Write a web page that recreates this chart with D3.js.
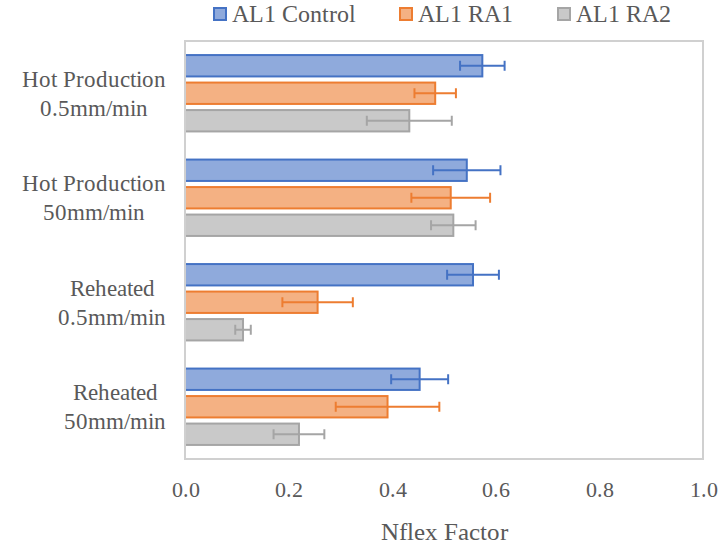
<!DOCTYPE html>
<html><head><meta charset="utf-8">
<script src="https://cdn.jsdelivr.net/npm/d3@7/dist/d3.min.js"></script>
<style>
  @font-face { font-family: "ChartSerif"; src: local("Liberation Serif"), local("LiberationSerif"), local("LiberationSerif-Regular"); }
  #chart text { font-family: "ChartSerif", "Liberation Serif", "Times New Roman" !important; }
</style>
</head>
<body style="margin:0">
<svg id="chart" width="719" height="547"></svg>
<script>
// Test conditions (one label per group, broken across lines)
const categories = [
  ["Hot Production", "0.5mm/min"],
  ["Hot Production", "50mm/min"],
  ["Reheated", "0.5mm/min"],
  ["Reheated", "50mm/min"]
];
const seriesNames = ["AL1 Control", "AL1 RA1", "AL1 RA2"];

// Mean Nflex factor per condition, one array per series
const control = [0.574, 0.544, 0.556, 0.453];
const ra1     = [0.483, 0.513, 0.256, 0.391];
const ra2     = [0.433, 0.518, 0.112, 0.220];

// Error bar half-widths (±)
const controlErr = [0.043, 0.065, 0.050, 0.055];
const ra1Err     = [0.040, 0.076, 0.068, 0.100];
const ra2Err     = [0.082, 0.043, 0.015, 0.049];

const xTicks = [0, 0.2, 0.4, 0.6, 0.8, 1.0];

const seriesStyle = [
  { fill: "#8faadc", stroke: "#4472c4" },
  { fill: "#f4b183", stroke: "#ed7d31" },
  { fill: "#c9c9c9", stroke: "#a5a5a5" }
];

const values = [control, ra1, ra2];
const errors = [controlErr, ra1Err, ra2Err];

const svg = d3.select("#chart");
const plot = { left: 185, right: 703, top: 41, bottom: 459 };

const x = d3.scaleLinear().domain([0, 1]).range([plot.left, plot.right]);
const yGroup = d3.scaleBand()
  .domain(d3.range(categories.length))
  .range([plot.top, plot.bottom])
  .paddingInner(0.25)
  .paddingOuter(0.125);
const ySeries = d3.scaleBand()
  .domain(d3.range(seriesNames.length))
  .range([0, yGroup.bandwidth()])
  .paddingInner(0.15);

function label(sel, size) {
  return sel.style("font-family", `"ChartSerif", "Liberation Serif", "Times New Roman"`, "important")
    .style("font-size", size + "px")
    .style("fill", "#595959");
}

// Plot area frame
svg.append("rect")
  .attr("x", plot.left).attr("y", plot.top)
  .attr("width", plot.right - plot.left)
  .attr("height", plot.bottom - plot.top)
  .attr("fill", "none")
  .attr("stroke", "#d0d0d0")
  .attr("stroke-width", 2);

// Bars and error bars
const groups = svg.selectAll("g.group")
  .data(categories)
  .join("g")
  .attr("class", "group")
  .attr("transform", (d, i) => `translate(0,${yGroup(i)})`);

groups.each(function(cat, ci) {
  const g = d3.select(this);
  seriesNames.forEach((name, si) => {
    const v = values[si][ci];
    const e = errors[si][ci];
    const st = seriesStyle[si];
    const y0 = ySeries(si);
    const bw = ySeries.bandwidth();
    g.append("rect")
      .attr("x", x(0))
      .attr("y", y0 + 1)
      .attr("width", x(v) - x(0))
      .attr("height", bw - 2)
      .attr("fill", st.fill)
      .attr("stroke", st.stroke)
      .attr("stroke-width", 2);
    const cy = y0 + bw / 2;
    const eg = g.append("g")
      .attr("stroke", st.stroke)
      .attr("stroke-width", 2)
      .attr("fill", "none");
    eg.append("line")
      .attr("x1", x(v - e)).attr("x2", x(v + e))
      .attr("y1", cy).attr("y2", cy);
    [v - e, v + e].forEach(ev => {
      eg.append("line")
        .attr("x1", x(ev)).attr("x2", x(ev))
        .attr("y1", cy - 5).attr("y2", cy + 5);
    });
  });
});

// Left axis line
svg.append("line")
  .attr("x1", plot.left).attr("x2", plot.left)
  .attr("y1", plot.top).attr("y2", plot.bottom)
  .attr("stroke", "#d0d0d0")
  .attr("stroke-width", 2);

// X axis tick labels
const xAxis = d3.axisBottom(x)
  .tickValues(xTicks)
  .tickFormat(d3.format(".1f"))
  .tickSize(0)
  .tickPadding(0);
const xa = svg.append("g")
  .attr("transform", `translate(0,${plot.bottom})`)
  .call(xAxis)
  .attr("font-family", null)
  .attr("font-size", null);
xa.select(".domain").remove();
label(xa.selectAll("text"), 22)
  .attr("y", 38)
  .attr("dy", 0);

// Category labels: block right-aligned, lines centred within the block
const catFont = 23;
const lh = 29;
categories.forEach((lines, ci) => {
  const cy = yGroup(ci) + yGroup.bandwidth() / 2;
  const texts = lines.map((l, li) =>
    label(svg.append("text"), catFont)
      .attr("y", cy + (li - (lines.length - 1) / 2) * lh)
      .attr("dy", "0.35em")
      .attr("text-anchor", "middle")
      .text(l));
  const maxW = d3.max(texts, t => t.node().getComputedTextLength());
  texts.forEach(t => t.attr("x", 166 - maxW / 2));
});

// Axis title
label(svg.append("text"), 25)
  .attr("x", (plot.left + plot.right) / 2)
  .attr("y", 540)
  .attr("text-anchor", "middle")
  .text("Nflex Factor");

// Legend
const legendX = [213, 399, 557];
seriesNames.forEach((name, si) => {
  const lg = svg.append("g").attr("transform", `translate(${legendX[si]},0)`);
  lg.append("rect")
    .attr("x", 1).attr("y", 8)
    .attr("width", 12).attr("height", 12)
    .attr("fill", seriesStyle[si].fill)
    .attr("stroke", seriesStyle[si].stroke)
    .attr("stroke-width", 2);
  label(lg.append("text"), 24)
    .attr("x", 19).attr("y", 14)
    .attr("dy", "0.35em")
    .text(name);
});
</script>
</body></html>
